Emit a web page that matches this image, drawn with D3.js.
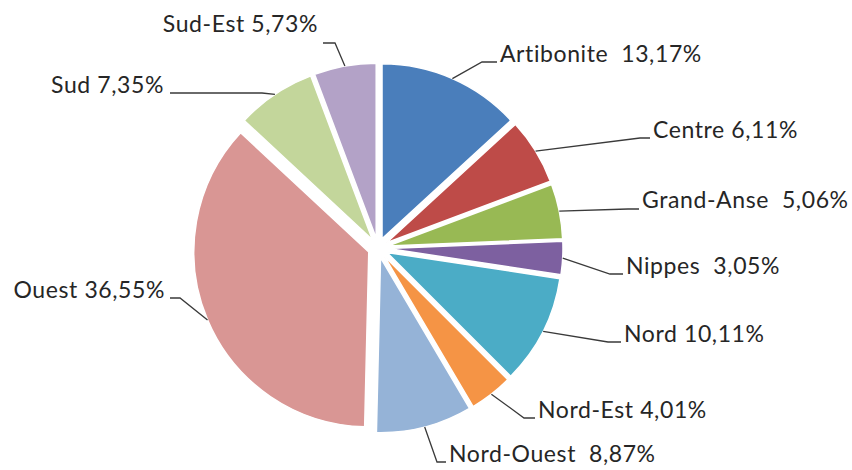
<!DOCTYPE html>
<html>
<head>
<meta charset="utf-8">
<script src="https://cdn.jsdelivr.net/npm/d3@7"></script>
<style>
  html, body { margin: 0; padding: 0; background: #fff; }
  text { font-family: Lato, "Open Sans", sans-serif; fill: #262626; }
</style>
</head>
<body>
<svg id="chart" width="852" height="470"></svg>
<script>
var departements = ["Artibonite", "Centre", "Grand-Anse", "Nippes", "Nord", "Nord-Est",
                    "Nord-Ouest", "Ouest", "Sud", "Sud-Est"];
var parts = [13.17, 6.11, 5.06, 3.05, 10.11, 4.01, 8.87, 36.55, 7.35, 5.73];
var labelTexts = ["Artibonite  13,17%", "Centre 6,11%", "Grand-Anse  5,06%", "Nippes  3,05%",
                  "Nord 10,11%", "Nord-Est 4,01%", "Nord-Ouest  8,87%", "Ouest 36,55%",
                  "Sud 7,35%", "Sud-Est 5,73%"];
var colors = ["#4a7ebb", "#be4b48", "#98b954", "#7d60a0", "#4bacc6", "#f59445",
              "#95b3d7", "#d99694", "#c3d69b", "#b3a2c7"];

// label layout: text x, baseline, anchor, leader y, elbow x, end x
var labelLayout = [
  {x: 500, y: 62,  anchor: "start", ly: 62,  ex: 482, end: 497},
  {x: 653, y: 138, anchor: "start", ly: 138, ex: 640, end: 650},
  {x: 642, y: 208, anchor: "start", ly: 209, ex: 628, end: 639},
  {x: 626, y: 274, anchor: "start", ly: 274, ex: 610, end: 623},
  {x: 624, y: 342, anchor: "start", ly: 342, ex: 608, end: 621},
  {x: 538, y: 418, anchor: "start", ly: 418, ex: 524, end: 535},
  {x: 449, y: 462, anchor: "start", ly: 462, ex: 437, end: 446},
  {x: 165, y: 298, anchor: "end",   ly: 298, ex: 180, end: 170},
  {x: 164, y: 93,  anchor: "end",   ly: 93,  ex: 262, end: 170},
  {x: 318, y: 32,  anchor: "end",   ly: 43,  ex: 335, end: 323}
];

var cx = 378, cy = 248, radius = 175, explode = 10;

var svg = d3.select("#chart");

var rows = departements.map(function(name, i) {
  return {name: name, value: parts[i], label: labelTexts[i], color: colors[i], pos: labelLayout[i]};
});

var pie = d3.pie().sort(null).value(function(d) { return d.value; });
var arc = d3.arc().innerRadius(0).outerRadius(radius);

var slices = pie(rows);

function midAngle(d) { return (d.startAngle + d.endAngle) / 2; }
function offset(d) {
  var a = midAngle(d);
  return [Math.sin(a) * explode, -Math.cos(a) * explode];
}

var g = svg.append("g").attr("transform", "translate(" + cx + "," + cy + ")");

g.selectAll("path.slice")
  .data(slices)
  .enter().append("path")
  .attr("class", "slice")
  .attr("transform", function(d) { var o = offset(d); return "translate(" + o[0] + "," + o[1] + ")"; })
  .attr("d", arc)
  .attr("fill", function(d) { return d.data.color; })
  .attr("stroke", "#fff")
  .attr("stroke-width", 1.5);

// leader lines go from the outer arc at mid angle to the label
var line = d3.line();
svg.selectAll("path.leader")
  .data(slices)
  .enter().append("path")
  .attr("class", "leader")
  .attr("d", function(d) {
    var a = midAngle(d), o = offset(d), p = d.data.pos;
    var start = [cx + o[0] + Math.sin(a) * radius, cy + o[1] - Math.cos(a) * radius];
    return line([start, [p.ex, p.ly], [p.end, p.ly]]);
  })
  .attr("fill", "none")
  .attr("stroke", "#3a3a3a")
  .attr("stroke-width", 1.3);

svg.selectAll("text.label")
  .data(slices)
  .enter().append("text")
  .attr("class", "label")
  .attr("x", function(d) { return d.data.pos.x; })
  .attr("y", function(d) { return d.data.pos.y; })
  .attr("text-anchor", function(d) { return d.data.pos.anchor; })
  .attr("font-size", 23)
  .attr("letter-spacing", 0.6)
  .style("white-space", "pre")
  .text(function(d) { return d.data.label; });
</script>
</body>
</html>
